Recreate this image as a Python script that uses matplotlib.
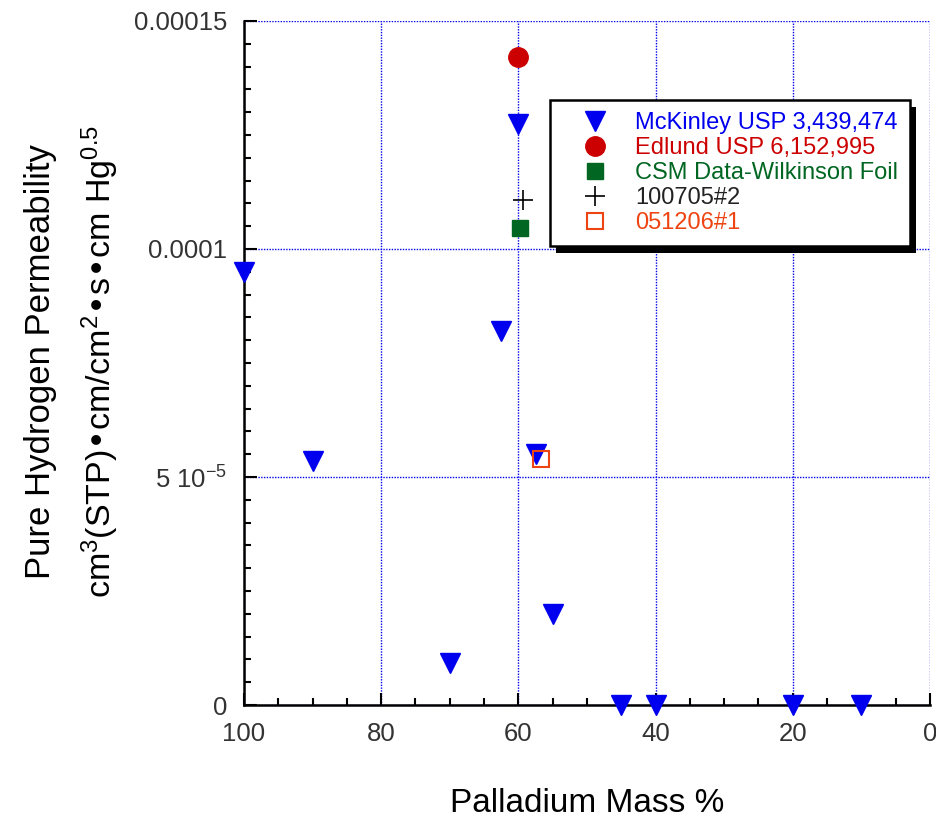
import numpy as np
import matplotlib.pyplot as plt
from matplotlib.ticker import MultipleLocator, FixedLocator, FixedFormatter
from matplotlib.patches import Rectangle
from matplotlib.transforms import IdentityTransform

plt.rcParams['font.family'] = ['Liberation Sans', 'DejaVu Sans']
plt.rcParams['mathtext.default'] = 'regular'

# McKinley USP 3,439,474
mck_pd = [100, 90, 70, 62.5, 60, 57.5, 55, 45, 40, 20, 10]
mck_perm = [9.5e-5, 5.35e-5, 0.92e-5, 8.2e-5, 12.75e-5, 5.5e-5, 2.0e-5, 0.0, 0.0, 0.0, 0.0]

# Edlund USP 6,152,995
edl_pd = [60]
edl_perm = [14.2e-5]

# CSM Data-Wilkinson Foil
csm_pd = [59.7]
csm_perm = [10.45e-5]

# 100705#2
run1_pd = [59.3]
run1_perm = [11.08e-5]

# 051206#1
run2_pd = [56.7]
run2_perm = [5.4e-5]

ytick_vals = [0, 5e-5, 1e-4, 1.5e-4]
ytick_labels = ['0', r'5 10$^{-5}$', '0.0001', '0.00015']

fig = plt.figure(figsize=(9.37, 8.22), dpi=100)
ax = fig.add_axes([0.2604, 0.1423, 0.7321, 0.8322])

ax.plot(mck_pd, mck_perm, 'v', color='#0000ee', ms=15, label='McKinley USP 3,439,474', clip_on=False, zorder=3)
ax.plot(edl_pd, edl_perm, 'o', color='#cc0000', ms=14, label='Edlund USP 6,152,995', clip_on=False, zorder=3)
ax.plot(csm_pd, csm_perm, 's', color='#006622', ms=12, label='CSM Data-Wilkinson Foil', clip_on=False, zorder=3)
ax.plot(run1_pd, run1_perm, '+', color='black', ms=14, mew=1.2, label='100705#2', clip_on=False, zorder=3)
ax.plot(run2_pd, run2_perm, 's', mfc='none', mec='#ee4411', ms=11, mew=1.5, label='051206#1', clip_on=False, zorder=4)

ax.set_xlim(100, 0)
ax.set_ylim(0, 1.5e-4)

ax.xaxis.set_major_locator(MultipleLocator(20))
ax.xaxis.set_minor_locator(MultipleLocator(5))
ax.yaxis.set_major_locator(FixedLocator(ytick_vals))
ax.yaxis.set_major_formatter(FixedFormatter(ytick_labels))
ax.yaxis.set_minor_locator(MultipleLocator(5e-6))

ax.tick_params(which='both', direction='in', top=False, right=False, labelsize=18.5,
               width=1.5, labelcolor='#333333')
ax.tick_params(which='major', length=9, pad=12)
ax.tick_params(which='minor', length=5)

for s in ['top', 'right']:
    ax.spines[s].set_visible(False)
for s in ['left', 'bottom']:
    ax.spines[s].set_linewidth(1.8)

ax.grid(True, which='major', color='#0000ee', linestyle=(0, (1, 1)), linewidth=1.0)
ax.set_axisbelow(True)

leg = ax.legend(loc='upper left', bbox_to_anchor=(0.446, 0.8845), bbox_transform=ax.transAxes,
                borderaxespad=0, fontsize=17, numpoints=1, fancybox=False, frameon=True,
                borderpad=0.5, handletextpad=0.3, labelspacing=0.13, handlelength=2.8,
                framealpha=1.0)
leg.get_frame().set_edgecolor('black')
leg.get_frame().set_linewidth(1.8)
leg.set_zorder(6)
text_colors = ['#0000ee', '#cc0000', '#006622', '#222222', '#ee4411']
for t, c in zip(leg.get_texts(), text_colors):
    t.set_color(c)

fig.text(0.043, 0.560, 'Pure Hydrogen Permeability', rotation=90, ha='center', va='center', fontsize=25)
fig.text(0.107, 0.560, r'cm$^{3}$(STP)•cm/cm$^{2}$•s•cm Hg$^{0.5}$', rotation=90, ha='center', va='center', fontsize=24.5)
fig.text(0.627, 0.022, 'Palladium Mass %', ha='center', va='center', fontsize=24)

# solid drop shadow behind the legend box
fig.canvas.draw()
bb = leg.get_frame().get_window_extent()
ax.add_patch(Rectangle((bb.x0 + 6, bb.y0 - 7), bb.width, bb.height, transform=IdentityTransform(),
                       facecolor='black', edgecolor='none', zorder=5.5, clip_on=False))

fig.savefig('out.png', dpi=100)
